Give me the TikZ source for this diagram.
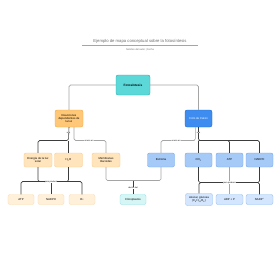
\documentclass[tikz,border=0pt]{standalone}
\usepackage{fontspec}
\setmainfont{Liberation Sans}
\usetikzlibrary{positioning}
\definecolor{tealmain}{RGB}{92, 216, 216}
\definecolor{tealedge}{RGB}{40, 170, 175}
\definecolor{teallite}{RGB}{214, 246, 246}
\definecolor{tealliteedge}{RGB}{140, 226, 228}
\definecolor{orgmain}{RGB}{255, 200, 120}
\definecolor{orgedge}{RGB}{240, 165, 60}
\definecolor{orgmid}{RGB}{255, 228, 188}
\definecolor{orgmidedge}{RGB}{248, 205, 140}
\definecolor{orglite}{RGB}{255, 240, 218}
\definecolor{orgliteedge}{RGB}{252, 221, 173}
\definecolor{bluemain}{RGB}{62, 140, 240}
\definecolor{blueedge}{RGB}{30, 105, 205}
\definecolor{bluemid}{RGB}{166, 202, 247}
\definecolor{bluemidedge}{RGB}{110, 165, 235}
\definecolor{bluelite}{RGB}{212, 230, 253}
\definecolor{blueliteedge}{RGB}{140, 190, 245}
\definecolor{linedark}{RGB}{60, 60, 60}
\definecolor{linelite}{RGB}{165, 165, 165}
\definecolor{titlegray}{RGB}{110, 110, 110}

\tikzset{
  % boxes
  box/.style={draw, line width=0.5pt, rounded corners=1mm, align=center,
    inner sep=0.5pt, font=\fontsize{4}{4.6}\selectfont},
  rootbox/.style={box, fill=tealmain, draw=tealedge, minimum width=17mm,
    minimum height=10mm, font=\fontsize{4.5}{5}\selectfont\bfseries},
  lightbox/.style={box, fill=orgmain, draw=orgedge, minimum width=14mm, minimum height=8.5mm},
  darkbox/.style={box, fill=bluemain, draw=blueedge, text=white, minimum width=13.5mm, minimum height=8.5mm},
  lightmid/.style={box, fill=orgmid, draw=orgmidedge, minimum width=14mm, minimum height=7mm},
  darkmid/.style={box, fill=bluemid, draw=bluemidedge, minimum width=13.5mm, minimum height=7mm},
  lightleaf/.style={box, fill=orglite, draw=orgliteedge, minimum width=13mm, minimum height=5mm},
  darkleaf/.style={box, fill=bluelite, draw=blueliteedge, minimum width=13.5mm, minimum height=5mm},
  placeleaf/.style={box, fill=teallite, draw=tealliteedge, minimum width=13mm, minimum height=5mm},
  % connectors
  conn/.style={draw=linedark, line width=0.8pt, rounded corners=0.8mm},
  connlite/.style={draw=linelite, line width=0.8pt, rounded corners=0.8mm},
  tag/.style={fill=white, inner sep=0.4pt, font=\fontsize{3}{3.5}\selectfont}
}

\begin{document}
\begin{tikzpicture}[x=0.5mm, y=-0.5mm]
  \useasboundingbox[fill=white] (0,0) rectangle (280,280);

  % title
  \node[text=titlegray, font=\fontsize{6}{7}\selectfont] (title) at (140,41.5)
    {Ejemplo de mapa conceptual sobre la fotosíntesis};
  \draw[linelite, line width=0.5pt] (82,45.5) -- (198,45.5);
  \node[text=titlegray, font=\fontsize{3.5}{4}\selectfont] (sub) at (140,49.5)
    {Nombre del autor | Fecha};

  % top levels
  \node[rootbox] (foto) at (133,85) {Fotosíntesis};
  \node[lightbox] (luz) at (69,118.5) {Reacciones\\dependientes de\\la luz};
  \node[darkbox] (calvin) at (198.5,118.5) {Ciclo de Calvin};

  % middle row
  \node[lightmid] (energia) at (38,160) {Energía de la luz\\solar};
  \node[lightmid] (agua) at (68.5,160) {H\textsubscript{2}O};
  \node[lightmid] (tila) at (106,160) {Membranas\\tilacoides};
  \node[darkmid] (estroma) at (161,160) {Estroma};
  \node[darkmid] (co2) at (198.5,160) {CO\textsubscript{2}};
  \node[darkmid] (atpc) at (229.5,160) {ATP};
  \node[darkmid] (nadphc) at (259.5,160) {NADPH};

  % bottom row
  \node[lightleaf] (atp) at (21,199.5) {ATP};
  \node[lightleaf] (nadph) at (51,199.5) {NADPH};
  \node[lightleaf] (o2) at (82,199.5) {O\textsubscript{2}};
  \node[placeleaf] (cloro) at (133,199.5) {Cloroplastos};
  \node[darkleaf, minimum height=6mm] (azucar) at (199,199.5) {Azúcar, glucosa\\(C\textsubscript{6}H\textsubscript{12}O\textsubscript{6})};
  \node[darkleaf] (adp) at (229.5,199.5) {ADP + P};
  \node[darkleaf] (nadp) at (259.5,199.5) {NADP\textsuperscript{+}};

  % junctions
  \coordinate (jluz) at (68.5,140.5);
  \coordinate (jtila) at (80,140.5);
  \coordinate (jcal) at (198.5,140.5);
  \coordinate (jest) at (193,140.5);
  \coordinate (jleft) at (51,181.5);
  \coordinate (jmid) at (133,180.5);
  \coordinate (jright) at (229.5,182.5);

  % Fotosintesis to its two halves
  \draw[connlite] (foto.west) -| (luz.north);
  \draw[connlite] (foto.east) -| (calvin.north);

  % light reactions
  \draw[conn] (luz.south) -- (jluz) -| (energia.north);
  \draw[conn] (jluz) -- (agua.north);
  \node[tag] at (68.5,132.5) {usa};
  \draw[connlite] (luz.300) |- (jtila) -| (tila.north);
  \node[tag] at (89,140.5) {ocurre en};

  % Calvin cycle
  \draw[conn] (calvin.south) -- (jcal) -| (nadphc.north);
  \draw[conn] (jcal) -- (co2.north);
  \draw[conn] (jcal) -| (atpc.north);
  \node[tag] at (198.5,132.5) {usa};
  \draw[connlite] (calvin.250) |- (jest) -| (estroma.north);
  \node[tag] at (176,140.5) {ocurre en};

  % left products
  \draw[conn] (energia.south) |- (jleft);
  \draw[conn] (agua.south) |- (jleft);
  \draw[conn] (jleft) -| (atp.north);
  \draw[conn] (jleft) -| (o2.north);
  \draw[conn] (jleft) -- (nadph.north);
  \node[tag] at (jleft) {para producir};

  % place
  \draw[connlite] (tila.south) |- (jmid);
  \draw[connlite] (estroma.south) |- (jmid);
  \draw[conn] (jmid) -- (cloro.north);
  \node[tag] at (133,188) {dentro del};

  % right products
  \draw[conn] (co2.south) |- (jright);
  \draw[conn] (nadphc.south) |- (jright);
  \draw[connlite] (atpc.south) -- (jright);
  \draw[conn] (jright) -| (azucar.north);
  \draw[conn] (jright) -| (nadp.north);
  \draw[connlite] (jright) -- (adp.north);
  \node[tag] at (jright) {para producir};
\end{tikzpicture}
\end{document}
